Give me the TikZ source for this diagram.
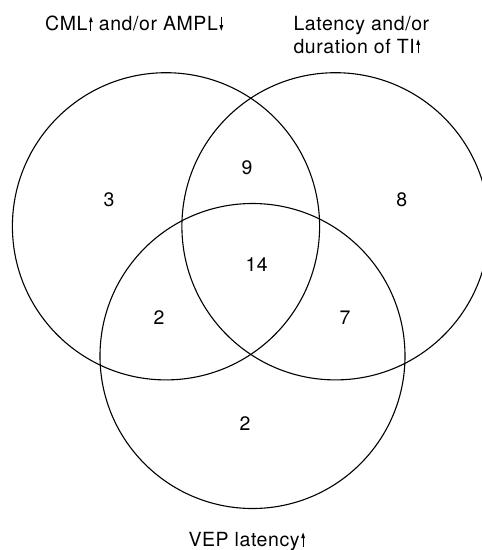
\documentclass[tikz,border=0pt]{standalone}
\usepackage{fontspec}
\setmainfont{TeX Gyre Heros}[LetterSpace=3]
\newcommand\myup{\hspace{1.5pt}\tikz[baseline=0pt,x=1pt,y=1pt]{\draw[line width=1.1pt] (0,0)--(0,9.5);\fill (-1.9,8.5)--(0,14)--(1.9,8.5)--cycle;}}
\newcommand\mydown{\hspace{1.5pt}\tikz[baseline=0pt,x=1pt,y=1pt]{\draw[line width=1.1pt] (0,14)--(0,4.5);\fill (-1.9,5.5)--(0,0)--(1.9,5.5)--cycle;}}
\tikzset{
  venn/.style={draw=black, line width=1.1pt},
  lbl/.style={font=\fontsize{19.5}{22.6}\selectfont, inner sep=0pt, align=left},
  num/.style={font=\fontsize{19.5}{22}\selectfont, inner sep=0pt},
}
\begin{document}
\begin{tikzpicture}[x=1pt,y=-1pt]
\useasboundingbox (0,0) rectangle (482,550);
\draw[venn] (166,226.3) circle (153.6);
\draw[venn] (335.5,226.3) circle (153.6);
\draw[venn] (252.5,356) circle (152.5);
\node[lbl, anchor=base west] (tA) at (45,30.7) {CML\myup{} and/or AMPL\mydown};
\node[lbl, anchor=base west] (tB1) at (293.3,30.7) {Latency and/or};
\node[lbl, anchor=base west] (tB2) at (293.3,53.3) {duration of TI\myup};
\node[lbl, anchor=base west] (tC) at (188.3,546.5) {VEP latency\myup};
\node[num] (n3) at (109,200) {3};
\node[num] (n9) at (247,168) {9};
\node[num] (n8) at (401.7,200) {8};
\node[num] (n14) at (256.7,265) {14};
\node[num] (n2a) at (159,318) {2};
\node[num] (n7) at (345,317.7) {7};
\node[num] (n2b) at (245,424) {2};
\end{tikzpicture}
\end{document}
